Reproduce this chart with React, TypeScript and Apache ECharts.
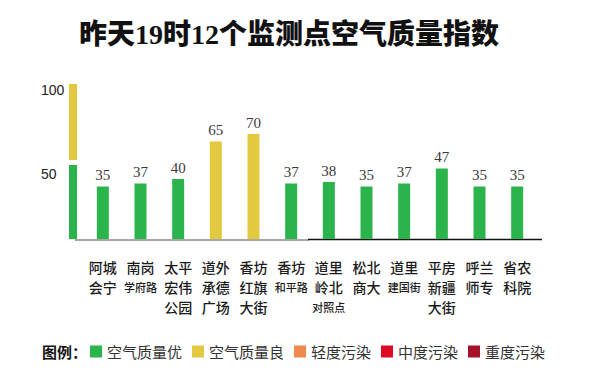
import React, { useEffect, useRef } from "react";
import * as echarts from "echarts";

const TITLE = "昨天19时12个监测点空气质量指数";
const categories = [
  "阿城\n会宁",
  "南岗\n学府路",
  "太平\n宏伟\n公园",
  "道外\n承德\n广场",
  "香坊\n红旗\n大街",
  "香坊\n和平路",
  "道里\n岭北\n对照点",
  "松北\n商大",
  "道里\n建国街",
  "平房\n新疆\n大街",
  "呼兰\n师专",
  "省农\n科院",
];
const values = [35, 37, 40, 65, 70, 37, 38, 35, 37, 47, 35, 35];
const levelNames = ["空气质量优", "空气质量良", "轻度污染", "中度污染", "重度污染"];
const levelMax = [50, 100, 150, 200, 300];
const levelColors = ["#2bb34c", "#e3c93f", "#f0894b", "#dd0a24", "#a3122a"];
const yTicks = [50, 100];
const LEGEND_LABEL = "图例：";

export default function App() {
  const ref = useRef<HTMLDivElement>(null);
  useEffect(() => {
    if (!ref.current) return;
    const chart = echarts.init(ref.current, undefined, { renderer: "svg" });
    const series = levelNames.map((name, li) => {
      const lo = li === 0 ? -Infinity : levelMax[li - 1];
      const hi = levelMax[li];
      return {
        name,
        type: "bar",
        barWidth: 12,
        barGap: "-100%",
        itemStyle: { color: levelColors[li] },
        label: {
          show: true,
          position: "top",
          distance: 4,
          fontFamily: "Liberation Serif",
          fontSize: 15,
          color: "#3a3a3a",
        },
        data: values.map((v) => (v > lo && v <= hi ? v : "-")),
      };
    });
    chart.setOption({
      animation: false,
      title: {
        text: TITLE,
        left: 79,
        top: 20,
        padding: 0,
        textStyle: {
          fontSize: 28,
          fontWeight: 900,
          fontFamily: "'Liberation Serif', 'Noto Sans CJK SC'",
          color: "#111",
        },
      },
      legend: {
        data: levelNames,
        left: 90,
        top: 344,
        padding: 0,
        icon: "rect",
        itemWidth: 12,
        itemHeight: 12,
        itemGap: 10,
        selectedMode: false,
        textStyle: { fontSize: 15, fontFamily: "Noto Sans CJK SC", color: "#333" },
      },
      grid: { left: 84, right: 64, top: 89, bottom: 148 },
      xAxis: {
        type: "category",
        data: categories,
        axisLine: { show: false },
        axisTick: { show: false },
        axisLabel: {
          margin: 18,
          interval: 0,
          formatter: (val: string) =>
            val
              .split("\n")
              .map((l) => (l.length >= 3 ? `{s|${l}}` : `{n|${l}}`))
              .join("\n"),
          rich: {
            n: { fontSize: 14, lineHeight: 20, fontWeight: 500, fontFamily: "Noto Sans CJK SC", color: "#1a1a1a" },
            s: { fontSize: 11, lineHeight: 20, fontWeight: 500, fontFamily: "Noto Sans CJK SC", color: "#1a1a1a" },
          },
        },
      },
      yAxis: {
        type: "value",
        min: 0,
        max: 100,
        interval: 50,
        axisLabel: { show: false },
        axisLine: { show: false },
        axisTick: { show: false },
        splitLine: { show: false },
      },
      series,
    });

    const py = (v: number) => chart.convertToPixel({ yAxisIndex: 0 }, v) as number;
    const y0 = py(0);
    const y50 = py(50);
    const y100 = py(100);
    chart.setOption({
      graphic: [
        { type: "rect", shape: { x: 69, y: y50 + 1, width: 8, height: y0 - y50 - 1 }, style: { fill: levelColors[0] } },
        { type: "rect", shape: { x: 69, y: y100 - 5, width: 8, height: y50 - 4 - (y100 - 5) }, style: { fill: levelColors[1] } },
        { type: "line", shape: { x1: 75, y1: y0 + 1, x2: 309, y2: y0 + 1 }, style: { stroke: "#8a8a8a", lineWidth: 1.5 } },
        { type: "line", shape: { x1: 308, y1: y0 + 0.5, x2: 542, y2: y0 + 0.5 }, style: { stroke: "#111", lineWidth: 1.5 } },
        ...yTicks.map((t) => ({
          type: "text",
          x: 41,
          y: t === 100 ? py(t) + 1 : py(t) + 10,
          style: {
            text: String(t),
            fontSize: 14,
            fontFamily: "Liberation Sans",
            fill: "#222",
            textAlign: "left",
            textVerticalAlign: "middle",
          },
        })),
        {
          type: "text",
          x: 42,
          y: 351,
          style: {
            text: LEGEND_LABEL,
            fontSize: 15,
            fontWeight: "bold",
            fontFamily: "Noto Sans CJK SC",
            fill: "#111",
            textAlign: "left",
            textVerticalAlign: "middle",
          },
        },
      ],
    });
    return () => chart.dispose();
  }, []);
  return (
    <div
      ref={ref}
      style={{ position: "fixed", left: 0, top: 0, width: 600, height: 387, background: "#fff" }}
    />
  );
}
